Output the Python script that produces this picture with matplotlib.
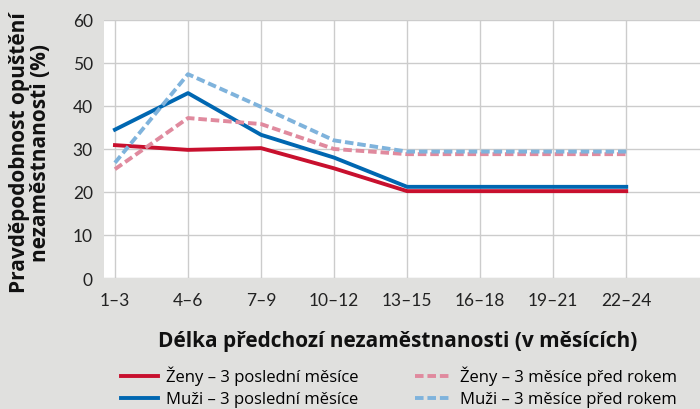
import matplotlib.pyplot as plt

plt.rcParams['font.family'] = ['Open Sans', 'DejaVu Sans']

# Data
kategorie = ['1–3', '4–6', '7–9', '10–12', '13–15', '16–18', '19–21', '22–24']
zeny_posledni = [30.9, 29.8, 30.2, 25.5, 20.2, 20.2, 20.2, 20.2]
muzi_posledni = [34.5, 43.0, 33.3, 28.0, 21.2, 21.2, 21.2, 21.2]
zeny_rok = [25.3, 37.2, 35.8, 30.0, 28.8, 28.8, 28.8, 28.8]
muzi_rok = [26.8, 47.4, 39.8, 32.0, 29.4, 29.4, 29.4, 29.4]

bg = '#e0e0de'
fig = plt.figure(figsize=(7, 4.1), dpi=100, facecolor=bg)
ax = fig.add_axes([104 / 700, 1 - 279 / 410, 596 / 700, 258 / 410])
ax.set_facecolor('white')

x = list(range(len(kategorie)))
carkovane = (0, (2.2, 1.0))
ax.plot(x, zeny_posledni, color='#c8102e', lw=2.8, label='Ženy – 3 poslední měsíce')
ax.plot(x, muzi_posledni, color='#0067b1', lw=2.8, label='Muži – 3 poslední měsíce')
ax.plot(x, zeny_rok, color='#e08a9e', lw=2.8, ls=carkovane, label='Ženy – 3 měsíce před rokem')
ax.plot(x, muzi_rok, color='#7fb3dc', lw=2.8, ls=carkovane, label='Muži – 3 měsíce před rokem')

ax.set_xlim(-0.15, 8.01)
ax.set_ylim(0, 60)
ax.set_yticks(range(0, 61, 10))
ax.set_xticks(x)
ax.set_xticklabels(kategorie)
ax.grid(True, color='#cccccc', lw=1)
ax.set_axisbelow(True)
for s in ax.spines.values():
    s.set_visible(False)
ax.tick_params(length=0, labelsize=12, colors='#222222', pad=8)
ax.tick_params(axis='x', pad=10)
for t in ax.get_xticklabels() + ax.get_yticklabels():
    t.set_family(['Lato', 'DejaVu Sans'])
    t.set_fontsize(12.5)

fig.text(398 / 700, 1 - 342 / 410, 'Délka předchozí nezaměstnanosti (v měsících)',
         fontsize=15, fontweight='bold', ha='center', va='center', color='#111111')
fig.text(30 / 700, 1 - 153 / 410, 'Pravděpodobnost opuštění\nnezaměstnanosti (%)',
         fontsize=15, fontweight='bold', ha='center', va='center', rotation=90,
         multialignment='center', linespacing=1.0, color='#111111')

fig.legend(loc='upper left', bbox_to_anchor=(121 / 700, 1 - 367 / 410), ncol=2,
           frameon=False, fontsize=12, handlelength=2.2, columnspacing=3.4,
           labelspacing=0.35, handletextpad=0.5, borderpad=0, borderaxespad=0)

fig.savefig('out.png', dpi=100, facecolor=bg)
